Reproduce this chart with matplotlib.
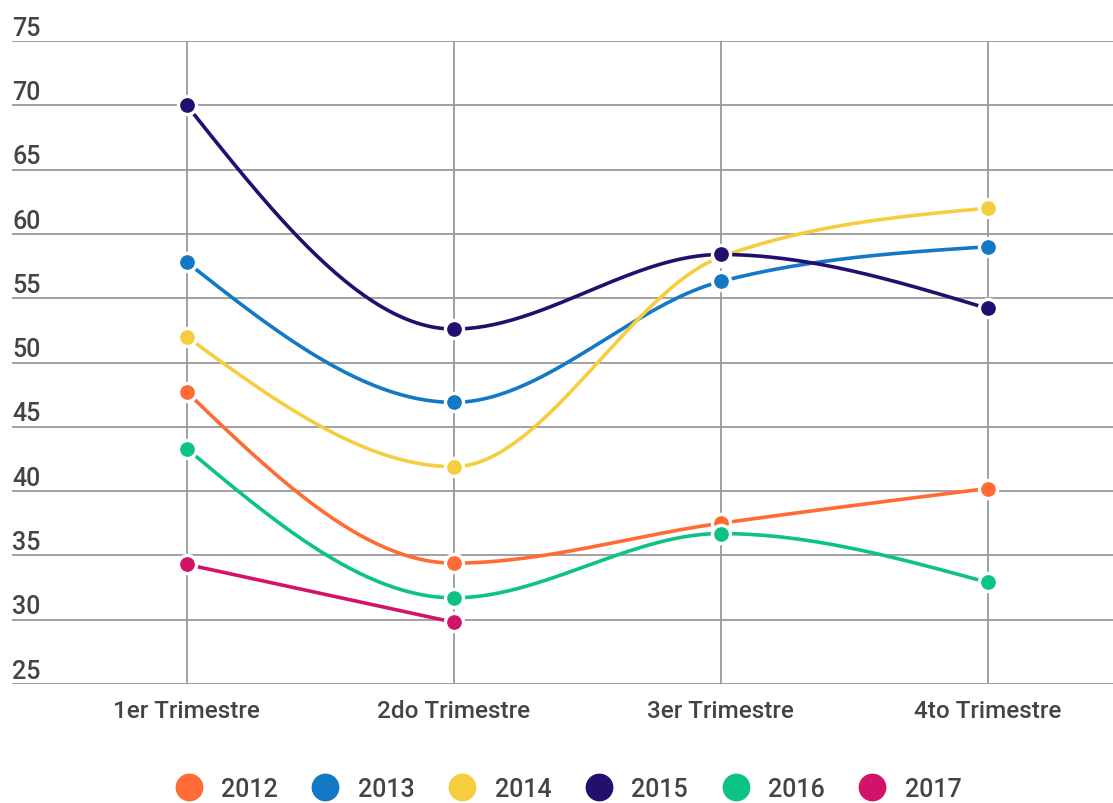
import numpy as np
import matplotlib.pyplot as plt
from matplotlib.lines import Line2D
from matplotlib.transforms import blended_transform_factory, offset_copy

plt.rcParams['font.family'] = ['Roboto', 'DejaVu Sans']

QUARTERS = ["1er Trimestre", "2do Trimestre", "3er Trimestre", "4to Trimestre"]
YEARS = ["2012", "2013", "2014", "2015", "2016", "2017"]
COLORS = ["#FF6B35", "#1479C4", "#F6CD3F", "#230F6E", "#0DC285", "#D3136A"]

v2012 = [47.7, 34.4, 37.5, 40.2]
v2013 = [57.8, 46.9, 56.3, 59.0]
v2014 = [52.0, 41.9, 58.2, 62.0]
v2015 = [70.0, 52.6, 58.4, 54.2]
v2016 = [43.3, 31.7, 36.7, 32.9]
v2017 = [34.3, 29.8]
SERIES = [v2012, v2013, v2014, v2015, v2016, v2017]

YTICKS = [25, 30, 35, 40, 45, 50, 55, 60, 65, 70, 75]
TEXT = "#444444"
GRID = "#9a9a9a"


def monotone_x(x, y, n=60):
    """d3 curveMonotoneX equivalent, sampled as cubic bezier segments."""
    x = np.asarray(x, float)
    y = np.asarray(y, float)
    if len(x) < 3:
        return x, y
    h = np.diff(x)
    s = np.diff(y) / h
    t = np.zeros(len(x))
    for i in range(1, len(x) - 1):
        h0, h1, s0, s1 = h[i - 1], h[i], s[i - 1], s[i]
        p = (s0 * h1 + s1 * h0) / (h0 + h1)
        t[i] = (np.sign(s0) + np.sign(s1)) * min(abs(s0), abs(s1), 0.5 * abs(p))
    t[0] = (3 * s[0] - t[1]) / 2
    t[-1] = (3 * s[-1] - t[-2]) / 2
    xs, ys = [], []
    u = np.linspace(0, 1, n)
    for i in range(len(x) - 1):
        dx = (x[i + 1] - x[i]) / 3
        px = [x[i], x[i] + dx, x[i + 1] - dx, x[i + 1]]
        py = [y[i], y[i] + dx * t[i], y[i + 1] - dx * t[i + 1], y[i + 1]]
        b = [(1 - u) ** 3, 3 * u * (1 - u) ** 2, 3 * u ** 2 * (1 - u), u ** 3]
        xs.append(sum(bi * pi for bi, pi in zip(b, px)))
        ys.append(sum(bi * pi for bi, pi in zip(b, py)))
    return np.concatenate(xs), np.concatenate(ys)


fig = plt.figure(figsize=(11.13, 8.04), dpi=100)
ax = fig.add_axes([12 / 1113, 1 - 685 / 804, 1 - 12 / 1113, (685 - 42) / 804])

for vals, color in zip(SERIES, COLORS):
    xi = np.arange(len(vals))
    cx, cy = monotone_x(xi, vals)
    ax.plot(cx, cy, color=color, lw=2.6, zorder=3, solid_capstyle='round')
    ax.plot(xi, vals, 'o', color=color, ms=13, mec='white', mew=2.4, zorder=4)

ax.set_xlim(-0.655, 3.47)
ax.set_ylim(25, 75)
ax.set_yticks(YTICKS)
ax.set_xticks(range(len(QUARTERS)))
ax.set_xticklabels(QUARTERS, fontsize=17.5, color=TEXT, fontweight='medium')
ax.tick_params(axis='x', length=0, pad=11)
ax.tick_params(axis='y', length=0, labelleft=False)
ax.grid(True, color=GRID, lw=1.3)
ax.set_axisbelow(True)
for sp in ax.spines.values():
    sp.set_visible(False)

trans = offset_copy(blended_transform_factory(ax.transAxes, ax.transData),
                    fig=fig, x=0, y=1, units='points')
for v in YTICKS:
    ax.text(0, v, str(v), transform=trans, ha='left', va='bottom',
            fontsize=18, color=TEXT, fontweight='medium')

handles = [Line2D([], [], ls='none', marker='o', ms=19, color=c, mec=c)
           for c in COLORS]
fig.legend(handles, YEARS, loc='lower center', ncol=6, frameon=False,
           bbox_to_anchor=(0.51, -0.025), labelcolor=TEXT,
           prop={'weight': 'medium', 'size': 18},
           handletextpad=0.7, columnspacing=1.3, handlelength=1.2)

fig.savefig("out.png", dpi=100)
